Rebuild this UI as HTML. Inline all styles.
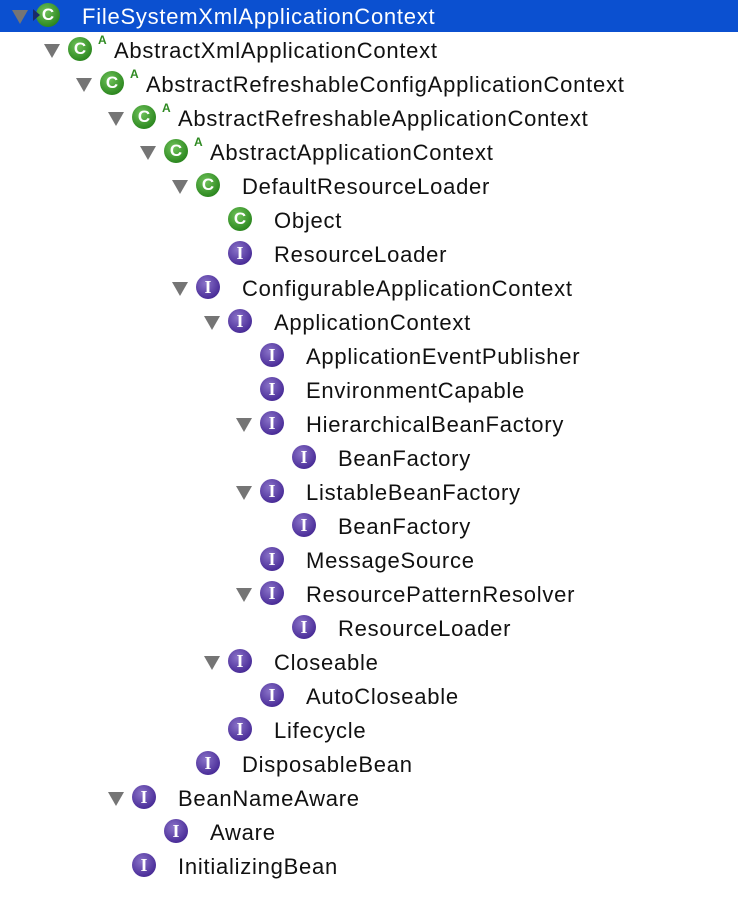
<!DOCTYPE html>
<html><head><meta charset="utf-8"><style>
html,body{margin:0;padding:0;background:#fff;width:738px;height:916px;overflow:hidden;position:relative;font-family:"Liberation Sans",Arial,sans-serif;}
.r{position:absolute;left:0;width:738px;height:32px;}
.sel{background:#0b50d0;}
.t{position:absolute;top:10px;width:0;height:0;border-left:8px solid transparent;border-right:8px solid transparent;border-top:14px solid #757575;}
.i{position:absolute;top:3px;width:24px;height:24px;border-radius:50%;color:#fff;font-weight:bold;font-size:17px;line-height:24px;text-align:center;font-family:"Liberation Sans",sans-serif;}
.c{background:radial-gradient(circle at 40% 35%,#6fc25a,#2f8a22 70%,#1e6a16);}
.n{background:radial-gradient(circle at 40% 35%,#8a73c8,#4c2f9a 70%,#35207a);font-family:"Liberation Serif",serif;font-size:18px;}
.a{position:absolute;top:-1px;font-size:12px;color:#2f8a22;font-weight:bold;}
.x{position:absolute;top:1px;line-height:32px;font-size:22px;letter-spacing:0.75px;color:#111;white-space:nowrap;}
.sel .x{color:#fff;}
</style></head><body>
<div class="r sel" style="top:0"><div class="t" style="left:12px"></div><div class="i c" style="left:36px">C</div><div style="position:absolute;left:33px;top:9px;width:0;height:0;border-top:6px solid transparent;border-bottom:6px solid transparent;border-left:7px solid #1a2a6a"></div><div class="x" style="left:82px">FileSystemXmlApplicationContext</div></div>
<div class="r" style="top:34px"><div class="t" style="left:44px"></div><div class="i c" style="left:68px">C</div><div class="a" style="left:98px">A</div><div class="x" style="left:114px">AbstractXmlApplicationContext</div></div>
<div class="r" style="top:68px"><div class="t" style="left:76px"></div><div class="i c" style="left:100px">C</div><div class="a" style="left:130px">A</div><div class="x" style="left:146px">AbstractRefreshableConfigApplicationContext</div></div>
<div class="r" style="top:102px"><div class="t" style="left:108px"></div><div class="i c" style="left:132px">C</div><div class="a" style="left:162px">A</div><div class="x" style="left:178px">AbstractRefreshableApplicationContext</div></div>
<div class="r" style="top:136px"><div class="t" style="left:140px"></div><div class="i c" style="left:164px">C</div><div class="a" style="left:194px">A</div><div class="x" style="left:210px">AbstractApplicationContext</div></div>
<div class="r" style="top:170px"><div class="t" style="left:172px"></div><div class="i c" style="left:196px">C</div><div class="x" style="left:242px">DefaultResourceLoader</div></div>
<div class="r" style="top:204px"><div class="i c" style="left:228px">C</div><div class="x" style="left:274px">Object</div></div>
<div class="r" style="top:238px"><div class="i n" style="left:228px">I</div><div class="x" style="left:274px">ResourceLoader</div></div>
<div class="r" style="top:272px"><div class="t" style="left:172px"></div><div class="i n" style="left:196px">I</div><div class="x" style="left:242px">ConfigurableApplicationContext</div></div>
<div class="r" style="top:306px"><div class="t" style="left:204px"></div><div class="i n" style="left:228px">I</div><div class="x" style="left:274px">ApplicationContext</div></div>
<div class="r" style="top:340px"><div class="i n" style="left:260px">I</div><div class="x" style="left:306px">ApplicationEventPublisher</div></div>
<div class="r" style="top:374px"><div class="i n" style="left:260px">I</div><div class="x" style="left:306px">EnvironmentCapable</div></div>
<div class="r" style="top:408px"><div class="t" style="left:236px"></div><div class="i n" style="left:260px">I</div><div class="x" style="left:306px">HierarchicalBeanFactory</div></div>
<div class="r" style="top:442px"><div class="i n" style="left:292px">I</div><div class="x" style="left:338px">BeanFactory</div></div>
<div class="r" style="top:476px"><div class="t" style="left:236px"></div><div class="i n" style="left:260px">I</div><div class="x" style="left:306px">ListableBeanFactory</div></div>
<div class="r" style="top:510px"><div class="i n" style="left:292px">I</div><div class="x" style="left:338px">BeanFactory</div></div>
<div class="r" style="top:544px"><div class="i n" style="left:260px">I</div><div class="x" style="left:306px">MessageSource</div></div>
<div class="r" style="top:578px"><div class="t" style="left:236px"></div><div class="i n" style="left:260px">I</div><div class="x" style="left:306px">ResourcePatternResolver</div></div>
<div class="r" style="top:612px"><div class="i n" style="left:292px">I</div><div class="x" style="left:338px">ResourceLoader</div></div>
<div class="r" style="top:646px"><div class="t" style="left:204px"></div><div class="i n" style="left:228px">I</div><div class="x" style="left:274px">Closeable</div></div>
<div class="r" style="top:680px"><div class="i n" style="left:260px">I</div><div class="x" style="left:306px">AutoCloseable</div></div>
<div class="r" style="top:714px"><div class="i n" style="left:228px">I</div><div class="x" style="left:274px">Lifecycle</div></div>
<div class="r" style="top:748px"><div class="i n" style="left:196px">I</div><div class="x" style="left:242px">DisposableBean</div></div>
<div class="r" style="top:782px"><div class="t" style="left:108px"></div><div class="i n" style="left:132px">I</div><div class="x" style="left:178px">BeanNameAware</div></div>
<div class="r" style="top:816px"><div class="i n" style="left:164px">I</div><div class="x" style="left:210px">Aware</div></div>
<div class="r" style="top:850px"><div class="i n" style="left:132px">I</div><div class="x" style="left:178px">InitializingBean</div></div>
</body></html>
